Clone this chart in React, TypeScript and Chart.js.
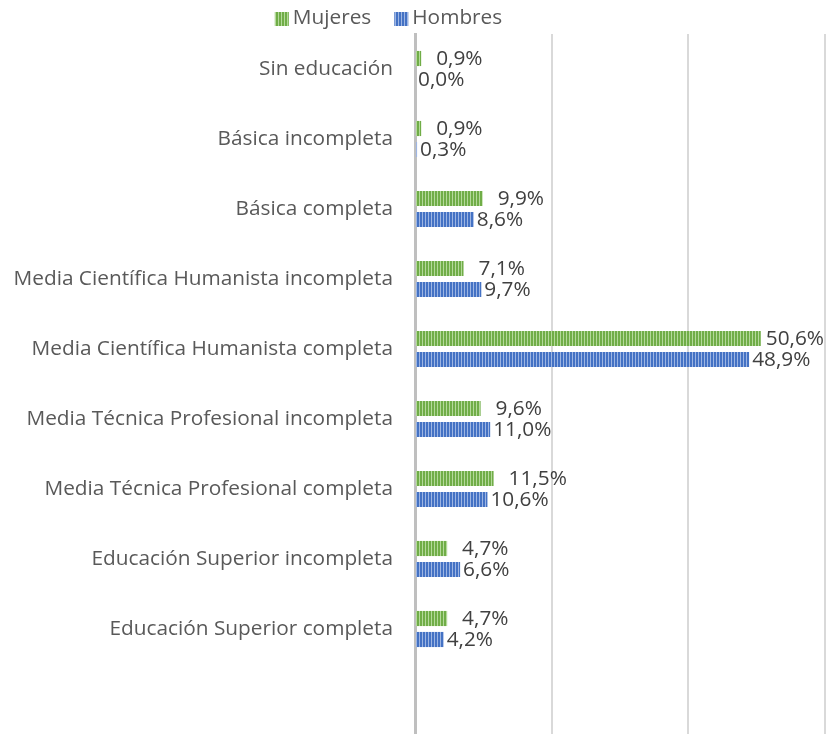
import React, { useEffect, useRef } from "react";
import { Chart, registerables } from "chart.js";

Chart.register(...registerables);

const categories = [
  "Sin educación",
  "Básica incompleta",
  "Básica completa",
  "Media Científica Humanista incompleta",
  "Media Científica Humanista completa",
  "Media Técnica Profesional incompleta",
  "Media Técnica Profesional completa",
  "Educación Superior incompleta",
  "Educación Superior completa",
  "",
];
const mujeres = [0.9, 0.9, 9.9, 7.1, 50.6, 9.6, 11.5, 4.7, 4.7, null];
const hombres = [0.0, 0.3, 8.6, 9.7, 48.9, 11.0, 10.6, 6.6, 4.2, null];
const seriesNames = ["Mujeres", "Hombres"];
const xTicks = [0, 20, 40, 60];

const FONT = "'Open Sans', sans-serif";
const FSIZE = 20.8;

function stripes(base: string, light: string): CanvasPattern | string {
  const c = document.createElement("canvas");
  c.width = 3;
  c.height = 4;
  const ctx = c.getContext("2d");
  if (!ctx) return base;
  ctx.fillStyle = base;
  ctx.fillRect(0, 0, 3, 4);
  ctx.fillStyle = light;
  ctx.fillRect(2, 0, 1, 4);
  return ctx.createPattern(c, "repeat") || base;
}

const labelPlugin = {
  id: "valueLabels",
  afterDatasetsDraw(chart: any) {
    const ctx = chart.ctx;
    ctx.save();
    ctx.font = `${FSIZE}px ${FONT}`;
    ctx.fillStyle = "#404040";
    ctx.textBaseline = "middle";
    ctx.textAlign = "left";
    const offsets = [15, 3];
    chart.data.datasets.forEach((ds: any, di: number) => {
      const meta = chart.getDatasetMeta(di);
      meta.data.forEach((el: any, i: number) => {
        const v = ds.data[i];
        if (v === null || v === undefined) return;
        const txt = v.toFixed(1).replace(".", ",") + "%";
        const w = ctx.measureText(txt).width;
        let x = el.x + offsets[di];
        const maxX = chart.width - 3 - w;
        if (x > maxX) x = maxX;
        ctx.fillText(txt, x, el.y + 1);
      });
    });
    ctx.restore();
  },
};

const legendPlugin = {
  id: "customLegend",
  afterDraw(chart: any) {
    const ctx = chart.ctx;
    ctx.save();
    ctx.font = `${FSIZE}px ${FONT}`;
    ctx.textBaseline = "middle";
    ctx.textAlign = "left";
    const box = 14;
    const gapText = 4;
    const gapItem = 23;
    const items = chart.data.datasets.map((ds: any) => ({
      label: ds.label,
      fill: ds.backgroundColor,
      w: ctx.measureText(ds.label).width,
    }));
    const total =
      items.reduce((s: number, it: any) => s + box + gapText + it.w, 0) +
      gapItem * (items.length - 1);
    let x = chart.width / 2 - 25 - total / 2;
    const cy = 19;
    items.forEach((it: any) => {
      ctx.fillStyle = it.fill;
      ctx.fillRect(x, cy - box / 2, box, box);
      x += box + gapText;
      ctx.fillStyle = "#595959";
      ctx.fillText(it.label, x, cy - 1);
      x += it.w + gapItem;
    });
    ctx.restore();
  },
};

export default function App() {
  const ref = useRef<HTMLCanvasElement>(null);
  useEffect(() => {
    if (!ref.current) return;
    const green = stripes("#70ad47", "#b4d99a");
    const blue = stripes("#4472c4", "#9db5e3");
    const chart = new Chart(ref.current, {
      type: "bar",
      data: {
        labels: categories,
        datasets: [
          {
            label: seriesNames[0],
            data: mujeres,
            backgroundColor: green as any,
            borderWidth: 0,
            categoryPercentage: 0.6,
            barPercentage: 0.72,
          },
          {
            label: seriesNames[1],
            data: hombres,
            backgroundColor: blue as any,
            borderWidth: 0,
            categoryPercentage: 0.6,
            barPercentage: 0.72,
          },
        ],
      },
      options: {
        indexAxis: "y",
        animation: false,
        responsive: false,
        layout: { padding: { left: 0, right: 2, top: 34, bottom: 0 } },
        plugins: {
          tooltip: { enabled: false },
          legend: { display: false },
        },
        scales: {
          x: {
            min: 0,
            max: 60,
            afterBuildTicks: (scale: any) => {
              scale.ticks = xTicks.map((v) => ({ value: v }));
            },
            ticks: { display: false },
            grid: {
              drawTicks: false,
              color: "#d9d9d9",
              lineWidth: 2,
            },
            border: { display: false },
          },
          y: {
            afterFit: (scale: any) => {
              scale.width = 415;
              scale.paddingTop = 0;
              scale.paddingBottom = 0;
            },
            ticks: {
              padding: 22,
              color: "#595959",
              font: { family: FONT, size: FSIZE },
            },
            grid: { display: false, drawTicks: false },
            border: { display: true, color: "#bfbfbf", width: 3 },
          },
        },
      },
      plugins: [labelPlugin, legendPlugin],
    });
    return () => chart.destroy();
  }, []);
  return (
    <div style={{ position: "fixed", left: 0, top: 0, width: 827, height: 734, background: "#fff" }}>
      <canvas ref={ref} width={827} height={734} style={{ display: "block" }} />
    </div>
  );
}
